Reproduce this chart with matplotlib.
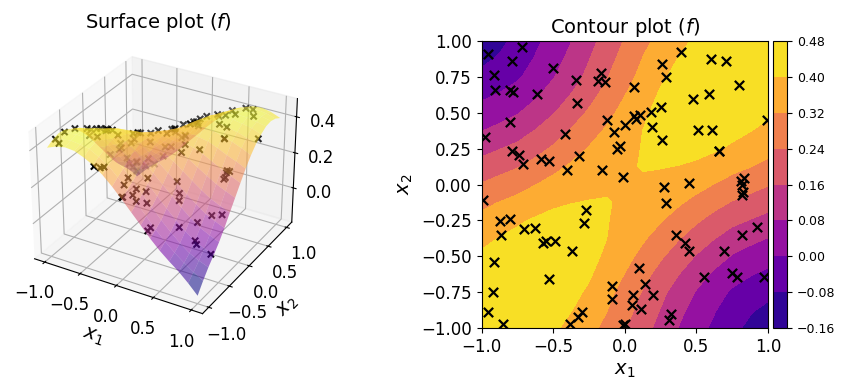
import matplotlib
matplotlib.use('Agg')
import matplotlib.pyplot as plt
import numpy as np

# grid the surface was read on
x1_grid = [-1, -0.875, -0.75, -0.625, -0.5, -0.375, -0.25, -0.125, 0, 0.125, 0.25, 0.375, 0.5, 0.625, 0.75, 0.875, 1]
x2_grid = [-1, -0.875, -0.75, -0.625, -0.5, -0.375, -0.25, -0.125, 0, 0.125, 0.25, 0.375, 0.5, 0.625, 0.75, 0.875, 1]

# f values, one row per x2 value (bottom row of the contour plot first)
f_grid = [
    [.405, .425, .435, .43, .41, .383, .345, .298, .245, .19, .135, .078, .028, -.015, -.055, -.102, -.155],
    [.425, .44, .447, .44, .43, .402, .37, .322, .268, .212, .157, .1, .05, .005, -.035, -.07, -.102],
    [.435, .447, .455, .45, .44, .418, .39, .343, .29, .235, .18, .125, .075, .03, -.01, -.035, -.055],
    [.43, .44, .45, .452, .45, .43, .408, .367, .318, .266, .213, .162, .112, .068, .03, .005, -.015],
    [.41, .43, .44, .45, .45, .44, .42, .388, .345, .298, .25, .202, .155, .112, .075, .05, .028],
    [.383, .402, .418, .43, .44, .44, .425, .4, .365, .33, .288, .245, .202, .162, .125, .1, .078],
    [.345, .37, .39, .408, .42, .425, .42, .403, .38, .357, .325, .288, .25, .213, .18, .157, .135],
    [.298, .322, .343, .367, .388, .398, .403, .404, .39, .378, .357, .33, .298, .266, .235, .212, .19],
    [.245, .268, .29, .318, .345, .365, .38, .39, .393, .39, .38, .365, .345, .318, .29, .268, .245],
    [.19, .212, .235, .266, .298, .33, .357, .378, .39, .404, .403, .398, .388, .367, .343, .322, .298],
    [.135, .157, .18, .213, .25, .288, .325, .357, .38, .403, .42, .425, .42, .408, .39, .37, .345],
    [.078, .1, .125, .162, .202, .245, .288, .33, .365, .4, .425, .44, .44, .43, .418, .402, .383],
    [.028, .05, .075, .112, .155, .202, .25, .298, .345, .388, .42, .44, .45, .45, .44, .43, .41],
    [-.015, .005, .03, .068, .112, .162, .213, .266, .318, .367, .408, .43, .45, .452, .45, .44, .43],
    [-.055, -.035, -.01, .03, .075, .125, .18, .235, .29, .343, .39, .418, .44, .45, .455, .447, .435],
    [-.102, -.07, -.035, .005, .05, .1, .157, .212, .268, .322, .37, .402, .43, .44, .447, .44, .425],
    [-.155, -.102, -.055, -.015, .028, .078, .135, .19, .245, .298, .345, .383, .41, .43, .435, .425, .405],
]

# sample points
pts_x1 = [-.952, -.715, -.785, -.910, -.903, -.803, -.782, -.503, -.610, -.338, -.163, -.184, -.135, -.331, -.799,
          -.121, .005, -.077, -.415, -.978, -.785, -.736, -.708, -.582, -.527, -.317, -.401, -.156, -.056, -.031,
          -.010, .395, .604, .704, .262, .290, .067, .800, .590, .479, .255, .186, .109, .067, .079,
          .193, .262, .514, .611, .660, .655, .991, .451, .276, .290, .811, .835, .816, .828, .821,
          .360, .423, .451, .695, .821, .926, .102, .556, .751, .786, .974, .144, .060, .199, .053,
          .116, .325, .311, 0.0, -.992, -.268, -.282, -.869, -.799, -.862, -.701, -.624, -.568, -.547, -.487,
          -.366, -.910, -.526, -.917, -.952, -.848, -.296, -.324, -.380, -.087, -.087, -.010]
pts_x2 = [.909, .958, .858, .763, .656, .659, .642, .810, .628, .726, .775, .719, .712, .566, .433,
          .449, .418, .364, .350, .329, .231, .203, .140, .180, .161, .196, .099, .099, .247, .266,
          .050, .926, .872, .863, .837, .747, .682, .691, .628, .593, .538, .503, .482, .477, .454,
          .398, .308, .377, .377, .231, .236, .449, .013, -.020, -.131, .027, .043, -.001, -.05, -.073,
          -.354, -.410, -.466, -.466, -.354, -.298, -.584, -.647, -.619, -.647, -.647, -.696, -.772, -.772, -.842,
          -.870, -.905, -.946, -.975, -.108, -.180, -.268, -.257, -.243, -.354, -.312, -.305, -.405, -.394, -.394,
          -.466, -.542, -.658, -.751, -.891, -.974, -.891, -.926, -.974, -.710, -.800, -.977]
pts_f = [-.10, -.04, -.04, -.04, 0, .02, .03, .06, .07, .15, .22, .22, .24, .18, .09,
         .31, .37, .35, .24, .11, .18, .20, .24, .25, .28, .33, .34, .38, .37, .37,
         .39, .395, .44, .445, .365, .395, .32, .45, .45, .44, .42, .405, .385, .37, .375,
         .41, .425, .435, .43, .40, .40, .395, .36, .375, .355, .285, .28, .28, .265, .26,
         .25, .205, .18, .09, .12, .125, .285, .085, .03, .02, -.01, .24, .26, .20, .24,
         .22, .11, .10, .25, .30, .41, .42, .375, .385, .40, .41, .415, .43, .435, .44,
         .44, .43, .45, .45, .435, .44, .36, .36, .37, .29, .27, .25]

levels = [-0.16, -0.08, 0.0, 0.08, 0.16, 0.24, 0.32, 0.40, 0.48]

plt.rcParams['font.size'] = 12
X1, X2 = np.meshgrid(x1_grid, x2_grid)
F = np.array(f_grid)

fig = plt.figure(figsize=(8.49, 3.9), dpi=100)

# Surface plot
ax = fig.add_axes([12 / 849, 52 / 390, 299 / 849, 310 / 390], projection='3d')
ax.plot_surface(X1, X2, F, cmap='plasma', alpha=0.55, rstride=1, cstride=1, linewidth=0)
ax.scatter(pts_x1, pts_x2, pts_f, marker='x', c='k', s=20)
ax.set_xlabel('$x_1$', fontsize=14, labelpad=5)
ax.set_ylabel('$x_2$', fontsize=14, labelpad=5)
ax.set_xticks([-1, -0.5, 0, 0.5, 1])
ax.set_yticks([-1, -0.5, 0, 0.5, 1])
ax.set_zticks([0, 0.2, 0.4])
ax.set_title('Surface plot ($f$)', fontsize=14, y=1.075, x=0.49)

# Contour plot
ax2 = fig.add_axes([481.5 / 849, 1 - 328 / 390, 286.5 / 849, 287 / 390])
cs = ax2.contourf(X1, X2, F, levels=levels, cmap='plasma')
ax2.scatter(pts_x1, pts_x2, marker='x', c='k', s=45, linewidths=1.6)
ax2.set_xlim(-1, 1)
ax2.set_ylim(-1, 1)
ax2.set_xlabel('$x_1$', fontsize=14)
ax2.set_ylabel('$x_2$', fontsize=14)
ax2.set_title('Contour plot ($f$)', fontsize=14)

cax = fig.add_axes([773 / 849, 1 - 328 / 390, 14 / 849, 287 / 390])
cb = fig.colorbar(cs, cax=cax)
cb.set_ticks(levels)
cb.ax.tick_params(labelsize=9)

fig.savefig('out.png', dpi=100)
